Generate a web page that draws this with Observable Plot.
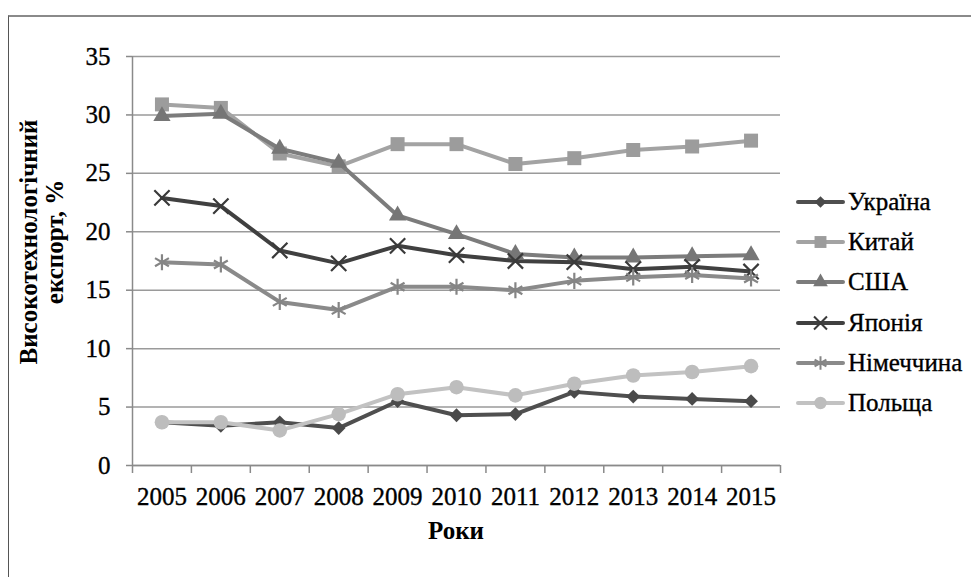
<!DOCTYPE html>
<html>
<head>
<meta charset="utf-8">
<script src="https://cdn.jsdelivr.net/npm/d3@7"></script>
<script src="https://cdn.jsdelivr.net/npm/@observablehq/plot@0.6"></script>
<style>
  html, body { margin: 0; padding: 0; background: #fff; }
  #wrap { position: relative; width: 971px; height: 577px; overflow: hidden; font-family: "Liberation Serif", "Times New Roman", serif; color: #000; }
  #frame { position: absolute; left: 8px; top: 15px; width: 980px; height: 600px; border-left: 1px solid #555; border-top: 2px solid #8a8a8a; box-sizing: border-box; }
  #chart { position: absolute; left: 0; top: 0; }
  #chart svg text { paint-order: stroke; stroke: #000; stroke-width: 0.35px; }
  .ytitle { position: absolute; left: 42px; top: 242px; width: 320px; transform: translate(-50%, -50%) rotate(-90deg); text-align: center; font-weight: bold; font-size: 25px; line-height: 26px; white-space: nowrap; }
  .xtitle { position: absolute; left: 456px; top: 531px; transform: translate(-50%, -50%); font-weight: bold; font-size: 25px; line-height: 26px; white-space: nowrap; }
  .legend { position: absolute; left: 796px; top: 182px; }
  .legend .row { display: flex; align-items: center; height: 40.2px; font-size: 25px; -webkit-text-stroke: 0.35px #000; }
  .legend svg { margin-right: 3px; }
</style>
</head>
<body>
<div id="wrap">
  <div id="frame"></div>
  <div id="chart"></div>
  <div class="ytitle">Високотехнологічний<br>експорт, %</div>
  <div class="xtitle">Роки</div>
  <div class="legend" id="legend"></div>
</div>
<script>
const years = [2005, 2006, 2007, 2008, 2009, 2010, 2011, 2012, 2013, 2014, 2015];
const yTicks = [0, 5, 10, 15, 20, 25, 30, 35];
const countries = ["Україна", "Китай", "США", "Японія", "Німеччина", "Польща"];
const ukraine = [3.7, 3.4, 3.7, 3.2, 5.5, 4.3, 4.4, 6.3, 5.9, 5.7, 5.5];
const china   = [30.9, 30.6, 26.7, 25.6, 27.5, 27.5, 25.8, 26.3, 27.0, 27.3, 27.8];
const usa     = [29.9, 30.1, 27.1, 25.9, 21.4, 19.8, 18.1, 17.8, 17.8, 17.9, 18.0];
const japan   = [22.9, 22.2, 18.4, 17.3, 18.8, 18.0, 17.5, 17.4, 16.8, 17.0, 16.6];
const germany = [17.4, 17.2, 14.0, 13.3, 15.3, 15.3, 15.0, 15.8, 16.1, 16.3, 16.0];
const poland  = [3.7, 3.7, 3.0, 4.4, 6.1, 6.7, 6.0, 7.0, 7.7, 8.0, 8.5];
const seriesValues = [ukraine, china, usa, japan, germany, poland];

// styles (kept separate from data)
const styles = [
  {line: "#4f4f4f", mark: "#4a4a4a", symbol: "diamond2", r: 6.2, filled: true},
  {line: "#a3a3a3", mark: "#9c9c9c", symbol: "square", r: 7.9, filled: true},
  {line: "#7c7c7c", mark: "#767676", symbol: "triangle", r: 6.4, filled: true},
  {line: "#404040", mark: "#3a3a3a", symbol: "times", r: 7.0, filled: false},
  {line: "#8a8a8a", mark: "#858585", symbol: "asterisk", r: 7.6, filled: false},
  {line: "#c2c2c2", mark: "#bdbdbd", symbol: "circle", r: 7.3, filled: true}
];

const data = countries.flatMap((c, i) => years.map((y, j) => ({country: c, year: y, value: seriesValues[i][j]})));
const bounds = years.map(y => y - 0.5).concat([years[years.length - 1] + 0.5]);

const seriesMarks = countries.flatMap((c, i) => {
  const s = styles[i];
  const d = data.filter(r => r.country === c);
  return [
    Plot.line(d, {x: "year", y: "value", stroke: s.line, strokeWidth: 4, strokeLinejoin: "round", strokeLinecap: "round"}),
    Plot.dot(d, s.filled
      ? {x: "year", y: "value", symbol: () => s.symbol, r: s.r, fill: s.mark, stroke: "none"}
      : {x: "year", y: "value", symbol: () => s.symbol, r: s.r, fill: "none", stroke: s.mark, strokeWidth: 2.2})
  ];
});

const chart = Plot.plot({
  width: 971,
  height: 577,
  marginLeft: 132,
  marginRight: 191,
  marginTop: 56,
  marginBottom: 112,
  style: "font-family: 'Liberation Serif', 'Times New Roman', serif; font-size: 25px; color: #000; background: transparent; overflow: visible;",
  x: {domain: [bounds[0], bounds[bounds.length - 1]]},
  y: {domain: [0, 35]},
  symbol: {type: "identity"},
  marks: [
    Plot.gridY(yTicks, {stroke: "#9a9a9a", strokeOpacity: 1, strokeWidth: 1.5}),
    Plot.axisY(yTicks, {tickSize: 6, tickPadding: 16, stroke: "#8a8a8a", strokeWidth: 1.5, fill: "#000", label: null, fontSize: 25}),
    Plot.axisX(years, {tickSize: 0, tickPadding: 22, tickFormat: d => String(d), fill: "#000", label: null, fontSize: 25}),
    Plot.axisX(bounds, {tickSize: 8, tickFormat: () => "", stroke: "#8a8a8a", strokeWidth: 1.5, label: null}),
    Plot.ruleX([bounds[0]], {stroke: "#8a8a8a", strokeWidth: 1.5}),
    Plot.ruleY([0], {stroke: "#8a8a8a", strokeWidth: 1.5}),
    ...seriesMarks
  ]
});
document.getElementById("chart").appendChild(chart);

// legend
const legend = d3.select("#legend");
const symMap = {diamond2: d3.symbolDiamond2, square: d3.symbolSquare, triangle: d3.symbolTriangle, times: d3.symbolTimes, asterisk: d3.symbolAsterisk, circle: d3.symbolCircle};
countries.forEach((c, i) => {
  const s = styles[i];
  const row = legend.append("div").attr("class", "row");
  const svg = row.append("svg").attr("width", 49).attr("height", 20);
  svg.append("line").attr("x1", 2).attr("x2", 47).attr("y1", 10).attr("y2", 10)
    .attr("stroke", s.line).attr("stroke-width", 4).attr("stroke-linecap", "round");
  const path = d3.symbol(symMap[s.symbol], Math.PI * (s.r * 0.85) ** 2)();
  const p = svg.append("path").attr("d", path).attr("transform", "translate(24.5,10)");
  if (s.filled) p.attr("fill", s.mark);
  else p.attr("fill", "none").attr("stroke", s.mark).attr("stroke-width", 2);
  row.append("span").text(c);
});
</script>
</body>
</html>
